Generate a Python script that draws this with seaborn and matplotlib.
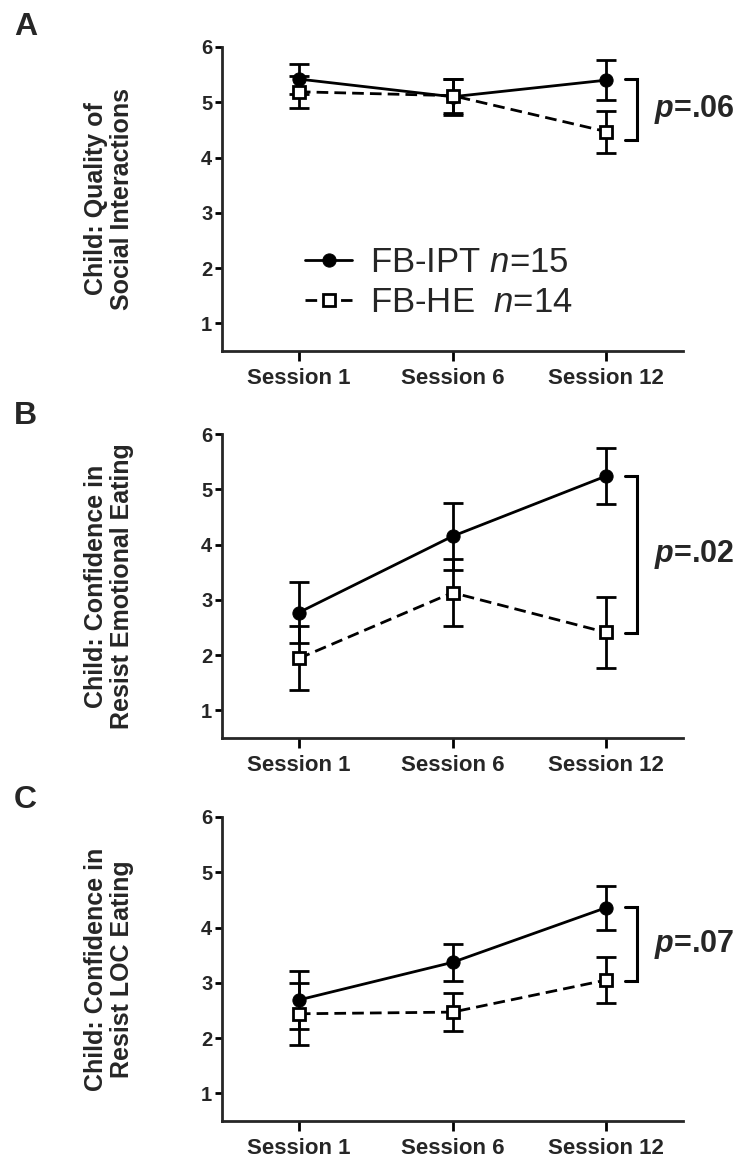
import numpy as np
import pandas as pd
import matplotlib
matplotlib.use("Agg")
import matplotlib.pyplot as plt
import seaborn as sns

# ---------------- data ----------------
sessions = ["Session 1", "Session 6", "Session 12"]
groups = ["FB-IPT", "FB-HE"]
legend_labels = [r"FB-IPT $\mathit{n}$=15", r"FB-HE  $\mathit{n}$=14"]
panel_letters = ["A", "B", "C"]
ylabels = ["Child: Quality of\nSocial Interactions",
           "Child: Confidence in\nResist Emotional Eating",
           "Child: Confidence in\nResist LOC Eating"]

ipt_mean_A = [5.42, 5.10, 5.40]
ipt_sem_A = [0.27, 0.33, 0.36]
he_mean_A = [5.19, 5.12, 4.47]
he_sem_A = [0.29, 0.31, 0.38]

ipt_mean_B = [2.77, 4.15, 5.24]
ipt_sem_B = [0.56, 0.61, 0.51]
he_mean_B = [1.94, 3.13, 2.41]
he_sem_B = [0.58, 0.60, 0.64]

ipt_mean_C = [2.69, 3.37, 4.36]
ipt_sem_C = [0.53, 0.34, 0.40]
he_mean_C = [2.44, 2.47, 3.05]
he_sem_C = [0.56, 0.34, 0.42]

bracket_top = [5.42, 5.24, 4.37]
bracket_bottom = [4.32, 2.40, 3.03]
p_labels = ["=.06", "=.02", "=.07"]

yticks = [1, 2, 3, 4, 5, 6]

# ---------------- style ----------------
sns.set_style("ticks")
plt.rcParams["font.family"] = ["Liberation Sans", "DejaVu Sans"]
plt.rcParams["mathtext.fontset"] = "custom"
plt.rcParams["mathtext.rm"] = "Liberation Sans"
plt.rcParams["mathtext.it"] = "Liberation Sans:italic"
plt.rcParams["mathtext.bf"] = "Liberation Sans:bold"
plt.rcParams["mathtext.bfit"] = "Liberation Sans:bold:italic"
plt.rcParams["axes.linewidth"] = 2.0

fig = plt.figure(figsize=(7.36, 11.61), dpi=100)
H = 1161.0
W = 736.0
ax_left = 222 / W
ax_w = 461 / W
ax_h = 304 / H
tops = [47, 434, 817]
letter_y = [27, 416, 800]

panels = [
    (ipt_mean_A, ipt_sem_A, he_mean_A, he_sem_A),
    (ipt_mean_B, ipt_sem_B, he_mean_B, he_sem_B),
    (ipt_mean_C, ipt_sem_C, he_mean_C, he_sem_C),
]

LW = 2.0
for i, (im, isem, hm, hsem) in enumerate(panels):
    bottom_px = tops[i] + 304
    ax = fig.add_axes([ax_left, (H - bottom_px) / H, ax_w, ax_h])

    df = pd.DataFrame({
        "session": sessions * 2,
        "group": [groups[0]] * 3 + [groups[1]] * 3,
        "mean": list(im) + list(hm),
        "sem": list(isem) + list(hsem),
    })
    d_ipt = df[df["group"] == groups[0]]
    d_he = df[df["group"] == groups[1]]

    # error bars
    for d in (d_ipt, d_he):
        ax.errorbar(d["session"], d["mean"], yerr=d["sem"], fmt="none",
                    ecolor="black", elinewidth=LW, capsize=7, capthick=LW, zorder=2)

    sns.lineplot(data=d_ipt, x="session", y="mean", ax=ax, sort=False,
                 color="black", linewidth=LW, marker="o", markersize=9.5,
                 markerfacecolor="black", markeredgecolor="black",
                 label=legend_labels[0], legend=False, zorder=4, errorbar=None)
    sns.lineplot(data=d_he, x="session", y="mean", ax=ax, sort=False,
                 color="black", linewidth=LW, linestyle=(0, (4.2, 2.2)),
                 marker="s", markersize=8.5, markerfacecolor="white",
                 markeredgecolor="black", markeredgewidth=LW,
                 label=legend_labels[1], legend=False, zorder=4, errorbar=None)

    ax.set_xlim(-0.5, 2.5)
    ax.set_ylim(0.5, 6)
    ax.set_yticks(yticks)
    ax.set_yticklabels([str(t) for t in yticks], fontsize=14.5, fontweight="bold")
    ax.set_xticks(range(len(sessions)))
    ax.set_xticklabels(sessions, fontsize=16, fontweight="bold")
    ax.tick_params(axis="y", width=2, length=5, pad=2, color="black")
    ax.tick_params(axis="x", width=2, length=7, pad=5, color="black")
    sns.despine(ax=ax)
    ax.set_xlabel("")
    ax.set_ylabel(ylabels[i], fontsize=18, fontweight="bold", linespacing=1.1)
    ax.yaxis.label.set_va("center")
    ax.yaxis.set_label_coords((109 - 222) / 461, 0.5)

    # significance bracket
    bx0, bx1 = 2.12, 2.20
    ax.plot([bx0, bx1, bx1, bx0], [bracket_top[i], bracket_top[i],
                                    bracket_bottom[i], bracket_bottom[i]],
            color="black", linewidth=2.2, clip_on=False, solid_joinstyle="miter")
    ymid = (bracket_top[i] + bracket_bottom[i]) / 2
    ax.text(2.31, ymid, r"$\mathbfit{p}$" + p_labels[i], fontsize=22,
            fontweight="bold", ha="left", va="center", clip_on=False)

    fig.text(14 / W, 1 - letter_y[i] / H, panel_letters[i], fontsize=23,
             fontweight="bold", ha="left", va="center")

    if i == 0:
        leg = ax.legend(loc="upper left", bbox_to_anchor=((305 - 222) / 461, 0.345),
                        frameon=False, fontsize=25, handlelength=1.36,
                        handletextpad=0.5, labelspacing=0.2, borderpad=0,
                        borderaxespad=0)

fig.savefig("out.png", dpi=100)
